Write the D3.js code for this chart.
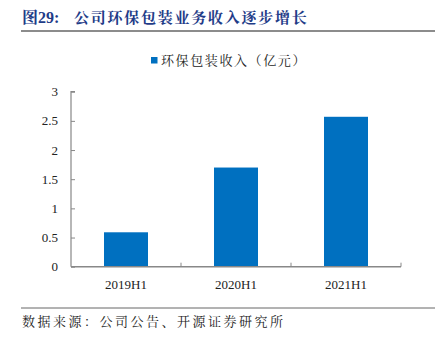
<!DOCTYPE html>
<html><head><meta charset="utf-8">
<script src="https://cdn.jsdelivr.net/npm/d3@7"></script>
<style>body{margin:0;background:#fff;}svg{display:block;}</style>
</head><body>
<svg id="c" width="438" height="337"></svg>
<script>
const categories = ["2019H1", "2020H1", "2021H1"];
const values = [0.59, 1.70, 2.57];
const yTicks = [0, 0.5, 1, 1.5, 2, 2.5, 3];
const yTickLabels = ["0", "0.5", "1", "1.5", "2", "2.5", "3"];
const seriesName = "环保包装收入（亿元）";
const titlePrefix = "图29:";
const titleText = "公司环保包装业务收入逐步增长";
const sourceText = "数据来源：公司公告、开源证券研究所";

const svg = d3.select("#c");
const serif = "'Liberation Serif','Times New Roman',serif";
const cjkSerif = "'Noto Serif CJK SC','Noto Sans CJK SC',sans-serif";

// title
const tp = svg.append("text").attr("x", 22).attr("y", 23)
  .attr("font-weight", "bold").attr("font-size", 16).attr("fill", "#1F3C88");
tp.append("tspan").attr("font-family", cjkSerif).text(titlePrefix.slice(0, 1));
tp.append("tspan").attr("font-family", serif).text(titlePrefix.slice(1));
svg.append("text").attr("x", 74).attr("y", 23)
  .attr("font-family", cjkSerif).attr("font-weight", "bold")
  .attr("font-size", 15).attr("letter-spacing", 1.75).attr("fill", "#1F3C88").text(titleText);
svg.append("line").attr("x1", 21).attr("x2", 435).attr("y1", 31).attr("y2", 31)
  .attr("stroke", "#666").attr("stroke-width", 1.3);

const x = d3.scaleBand().domain(categories).range([71, 401]).paddingInner(0.6).paddingOuter(0.3);
const y = d3.scaleLinear().domain([0, 3]).range([266.7, 91.7]);

// bars
svg.selectAll("rect.bar").data(values).enter().append("rect")
  .attr("class", "bar")
  .attr("x", (d, i) => x(categories[i]))
  .attr("width", x.bandwidth())
  .attr("y", d => y(d))
  .attr("height", d => y(0) - y(d))
  .attr("fill", "#0070C0");

// y axis
const yAxis = d3.axisRight(y).tickValues(yTicks).tickSize(4).tickFormat("");
const gy = svg.append("g").attr("transform", "translate(71,0)").call(yAxis);
gy.select(".domain").attr("stroke", "#888").attr("stroke-width", 1.2).attr("d", `M4,${y(3)}H0V${y(0)}`);
gy.selectAll(".tick line").attr("stroke", "#888");
svg.selectAll("text.ylab").data(yTicks).enter().append("text")
  .attr("class", "ylab")
  .attr("x", 58).attr("y", d => y(d)).attr("dy", "0.35em")
  .attr("text-anchor", "end").attr("font-family", serif).attr("font-size", 13)
  .attr("fill", "#222").text((d, i) => yTickLabels[i]);

// x axis
const xEdges = d3.scaleLinear().domain([0, categories.length]).range([71, 401]);
const gx = svg.append("g");
gx.append("line").attr("x1", 71).attr("x2", 401).attr("y1", y(0)).attr("y2", y(0))
  .attr("stroke", "#888").attr("stroke-width", 1.5);
gx.selectAll("line.xt").data(d3.range(1, categories.length + 1)).enter().append("line")
  .attr("class", "xt").attr("x1", d => xEdges(d)).attr("x2", d => xEdges(d))
  .attr("y1", y(0)).attr("y2", y(0) - 4).attr("stroke", "#888");
gx.selectAll("text").data(categories).enter().append("text")
  .attr("x", d => x(d) + x.bandwidth() / 2).attr("y", 289)
  .attr("text-anchor", "middle").attr("font-family", serif).attr("font-size", 13)
  .attr("fill", "#222").text(d => d);

// legend
svg.append("rect").attr("x", 151).attr("y", 57).attr("width", 6.5).attr("height", 6.5).attr("fill", "#0070C0");
svg.append("text").attr("x", 161).attr("y", 65)
  .attr("font-family", cjkSerif).attr("font-size", 13).attr("letter-spacing", 1.6)
  .attr("fill", "#222").text(seriesName);

// source
svg.append("line").attr("x1", 21).attr("x2", 435).attr("y1", 308).attr("y2", 308)
  .attr("stroke", "#666").attr("stroke-width", 1);
svg.append("text").attr("x", 22).attr("y", 326)
  .attr("font-family", cjkSerif).attr("font-size", 13).attr("letter-spacing", 2.5)
  .attr("fill", "#222").text(sourceText);
</script>
</body></html>
